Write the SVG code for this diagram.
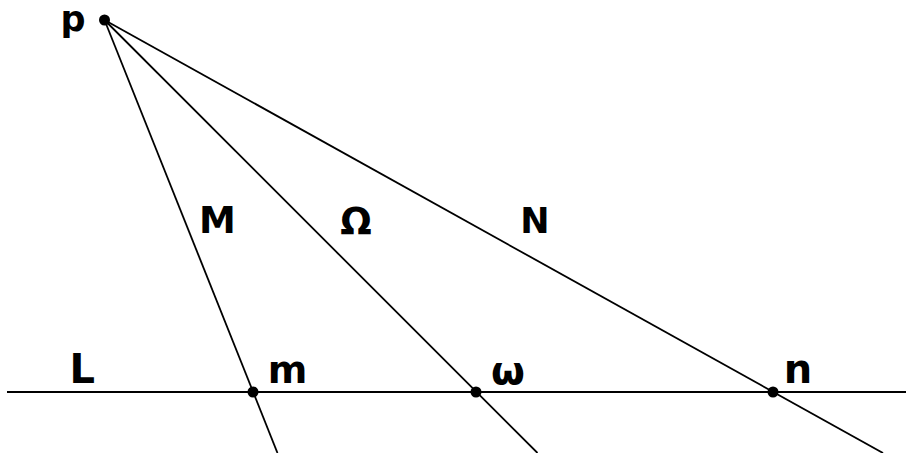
<svg xmlns="http://www.w3.org/2000/svg" width="906" height="453" viewBox="0 0 906 453">
<style>
.ln{stroke:#000;fill:none}
.dot{fill:#000}
.lb{font-family:"DejaVu Sans",sans-serif;font-weight:bold;fill:#000}
</style>
<rect width="906" height="453" fill="#fff"/>
<g id="connectors">
<line class="ln" x1="7" y1="392" x2="906" y2="392" stroke-width="2"/>
<line class="ln" x1="104.5" y1="20" x2="277.5" y2="453" stroke-width="1.8"/>
<line class="ln" x1="104.5" y1="20" x2="537.5" y2="453" stroke-width="1.8"/>
<line class="ln" x1="104.5" y1="20" x2="883" y2="453" stroke-width="1.8"/>
</g>
<g id="p"><circle class="dot" cx="104.5" cy="20" r="5.5"/><text class="lb" x="73" y="31" font-size="35" text-anchor="middle">p</text></g>
<g id="m"><circle class="dot" cx="253" cy="392" r="5.5"/><text class="lb" x="287.5" y="383" font-size="38" text-anchor="middle">m</text></g>
<g id="omega"><circle class="dot" cx="476" cy="392" r="5.5"/><text class="lb" x="508" y="384" font-size="39" text-anchor="middle">ω</text></g>
<g id="n"><circle class="dot" cx="773" cy="392" r="5.5"/><text class="lb" x="798" y="383" font-size="40" text-anchor="middle">n</text></g>
<g id="L"><text class="lb" x="69.5" y="383" font-size="40">L</text></g>
<g id="M"><text class="lb" x="217.5" y="233" font-size="37" text-anchor="middle">M</text></g>
<g id="Omega"><text class="lb" x="356" y="234" font-size="37" text-anchor="middle">Ω</text></g>
<g id="N"><text class="lb" x="535" y="233" font-size="35" text-anchor="middle">N</text></g>
</svg>
